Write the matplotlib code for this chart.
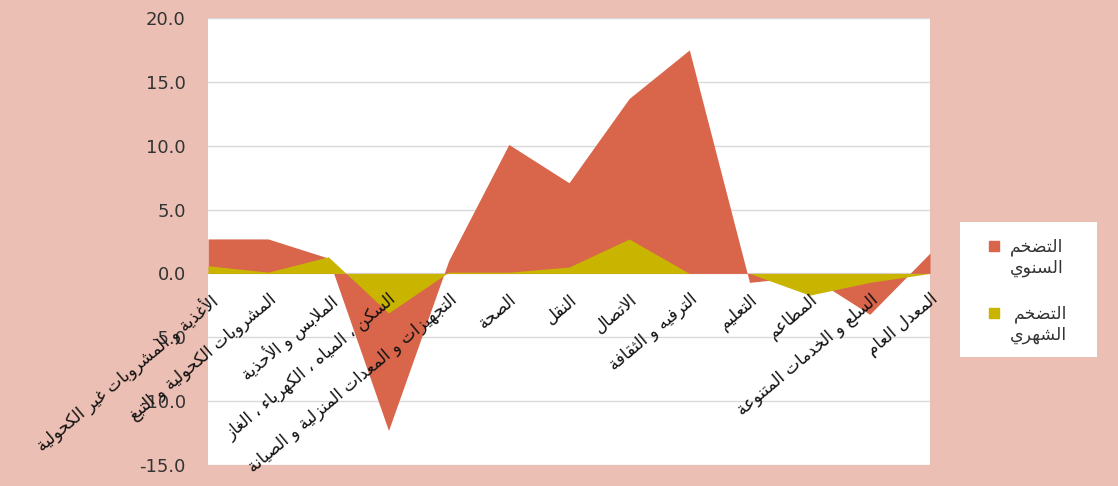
import matplotlib
matplotlib.use("Agg")
import matplotlib.pyplot as plt
import matplotlib.patches as mpatches
from matplotlib.legend_handler import HandlerPatch

# category labels (logical order, as typed)
categories = [
    "الأغذية و المشروبات غير الكحولية",
    "المشروبات الكحولية و التبغ",
    "الملابس و الأحذية",
    "السكن ، المياه ، الكهرباء ، الغاز",
    "التجهيزات و المعدات المنزلية و الصيانة",
    "الصحة",
    "النقل",
    "الاتصال",
    "الترفيه و الثقافة",
    "التعليم",
    "المطاعم",
    "السلع و الخدمات المتنوعة",
    "المعدل العام",
]
annual = [2.7, 2.7, 1.2, -12.3, 1.0, 10.1, 7.1, 13.7, 17.5, -0.7, -0.2, -3.2, 1.6]
monthly = [0.6, 0.1, 1.3, -3.1, 0.1, 0.1, 0.5, 2.7, 0.0, 0.0, -1.7, -0.7, 0.0]
series_names = ["التضخم\nالسنوي", "التضخم\nالشهري"]
yticks = [-15, -10, -5, 0, 5, 10, 15, 20]

RED = "#D9654B"
YELLOW = "#C9B400"
BG = "#ECBFB4"

# --- minimal Arabic shaping (matplotlib has no complex text layout) ---
FORMS = {
    "ء": (0xFE80, 1), "آ": (0xFE81, 2), "أ": (0xFE83, 2), "ؤ": (0xFE85, 2),
    "إ": (0xFE87, 2), "ئ": (0xFE89, 4), "ا": (0xFE8D, 2), "ب": (0xFE8F, 4),
    "ة": (0xFE93, 2), "ت": (0xFE95, 4), "ث": (0xFE99, 4), "ج": (0xFE9D, 4),
    "ح": (0xFEA1, 4), "خ": (0xFEA5, 4), "د": (0xFEA9, 2), "ذ": (0xFEAB, 2),
    "ر": (0xFEAD, 2), "ز": (0xFEAF, 2), "س": (0xFEB1, 4), "ش": (0xFEB5, 4),
    "ص": (0xFEB9, 4), "ض": (0xFEBD, 4), "ط": (0xFEC1, 4), "ظ": (0xFEC5, 4),
    "ع": (0xFEC9, 4), "غ": (0xFECD, 4), "ف": (0xFED1, 4), "ق": (0xFED5, 4),
    "ك": (0xFED9, 4), "ل": (0xFEDD, 4), "م": (0xFEE1, 4), "ن": (0xFEE5, 4),
    "ه": (0xFEE9, 4), "و": (0xFEED, 2), "ى": (0xFEEF, 2), "ي": (0xFEF1, 4),
}
LAM_ALEF = {"آ": 0xFEF5, "أ": 0xFEF7, "إ": 0xFEF9, "ا": 0xFEFB}


def shape_line(text):
    tokens = []
    i = 0
    while i < len(text):
        c = text[i]
        if c == "ل" and i + 1 < len(text) and text[i + 1] in LAM_ALEF:
            tokens.append((LAM_ALEF[text[i + 1]], 2))
            i += 2
        elif c in FORMS:
            tokens.append(FORMS[c])
            i += 1
        else:
            tokens.append(c)
            i += 1
    out = []
    for k, t in enumerate(tokens):
        if isinstance(t, str):
            out.append(t)
            continue
        base, n = t
        prev = tokens[k - 1] if k > 0 else None
        nxt = tokens[k + 1] if k + 1 < len(tokens) else None
        join_prev = n > 1 and isinstance(prev, tuple) and prev[1] == 4
        join_next = n == 4 and isinstance(nxt, tuple) and nxt[1] > 1
        if join_prev and join_next:
            code = base + 3
        elif join_prev:
            code = base + 1
        elif join_next:
            code = base + 2
        else:
            code = base
        out.append(chr(code))
    return "".join(reversed(out))


def shape(text):
    return "\n".join(shape_line(s) for s in text.split("\n"))


def legend_square(legend, orig_handle, xdescent, ydescent, width, height, fontsize):
    side = 0.55 * fontsize
    return mpatches.Rectangle((-xdescent, 0.8 * fontsize), side, side)


fig = plt.figure(figsize=(11.18, 4.86), dpi=100, facecolor=BG)
ax = fig.add_axes([208 / 1118, 1 - 465 / 486, (930 - 208) / 1118, (465 - 18) / 486])
ax.set_facecolor("white")

x = list(range(len(categories)))
ax.fill_between(x, 0, annual, color=RED, linewidth=0, label=shape(series_names[0]))
ax.fill_between(x, 0, monthly, color=YELLOW, linewidth=0, label=shape(series_names[1]))

ax.set_xlim(0, len(categories) - 1)
ax.set_ylim(-15, 20)
ax.set_yticks(yticks)
ax.set_yticklabels([f"{v:.1f}" for v in yticks])
ax.yaxis.grid(True, color="#D9D9D9", linewidth=1)
ax.set_axisbelow(True)
# category labels sit on top of the areas, gridlines stay behind
ax.xaxis.set_zorder(3)

for side in ["top", "right", "left"]:
    ax.spines[side].set_visible(False)
ax.spines["bottom"].set_position(("data", 0))
ax.spines["bottom"].set_visible(False)

ax.set_xticks(x)
ax.set_xticklabels([shape(c) for c in categories], fontsize=12,
                   color="#111111", rotation=40, ha="right", va="top",
                   rotation_mode="anchor")
ax.tick_params(axis="x", length=0, pad=12)
ax.tick_params(axis="y", length=0, pad=16, labelsize=13, labelcolor="#333333")

# legend box
fig.add_artist(mpatches.Rectangle((960 / 1118, 1 - 357 / 486), 137 / 1118, 135 / 486,
                                  transform=fig.transFigure, facecolor="white",
                                  edgecolor="none", zorder=1))
handles = [mpatches.Patch(color=RED), mpatches.Patch(color=YELLOW)]
leg = fig.legend(handles, [shape(s) for s in series_names],
                 loc="upper left", bbox_to_anchor=(989 / 1118, 1 - 238 / 486),
                 frameon=False, borderpad=0, borderaxespad=0,
                 handlelength=0.6, handletextpad=0.6, labelspacing=1.6,
                 fontsize=12.5, handler_map={mpatches.Patch: HandlerPatch(patch_func=legend_square)})
for t in leg.get_texts():
    t.set_multialignment("right")
    t.set_color("#333333")

fig.savefig("out.png", dpi=100, facecolor=BG)
